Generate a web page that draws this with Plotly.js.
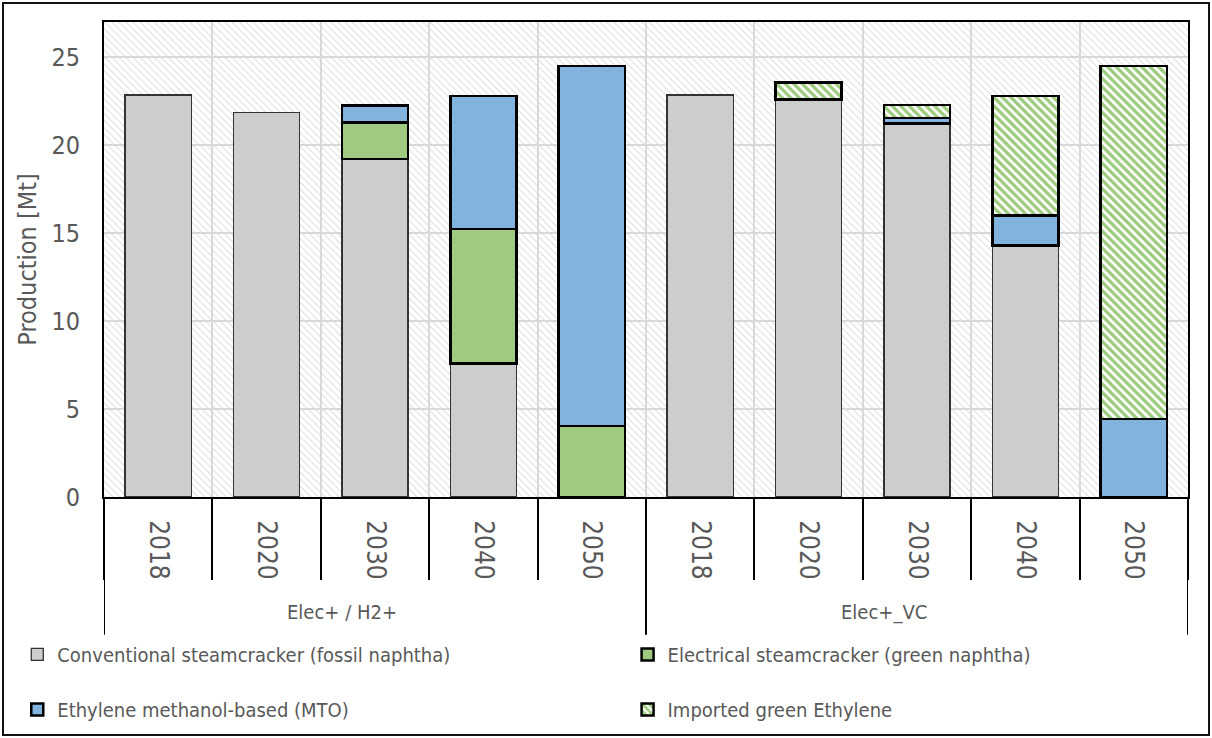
<!DOCTYPE html>
<html><head><meta charset="utf-8">
<script src="https://cdn.plot.ly/plotly-3.0.1.min.js"></script>
<style>
html,body{margin:0;padding:0;background:#fff}
#chart{width:1212px;height:738px}
#frame{position:absolute;left:2px;top:2px;width:1204px;height:730px;border:2px solid #111;pointer-events:none;box-sizing:content-box}
</style>
</head><body><div id="chart"></div><div id="frame"></div>
<script>
// ---- data ----
const scenarios = ['Elec+ / H2+', 'Elec+_VC'];
const years = ['2018', '2020', '2030', '2040', '2050'];
const conventional = [22.85, 21.85, 19.2, 7.6, null, 22.85, 22.6, 21.23, 14.3, null];
const electrical   = [null, null, 2.1, 7.62, 4.05, null, null, null, null, null];
const mto          = [null, null, 0.96, 7.57, 20.45, null, null, 0.32, 1.7, 4.43];
const imported     = [null, null, null, null, null, null, 0.96, 0.72, 6.8, 20.07];
const seriesNames = [
  'Conventional steamcracker (fossil naphtha)',
  'Electrical steamcracker (green naphtha)',
  'Ethylene methanol-based (MTO)',
  'Imported green Ethylene'
];

// ---- derived ----
const yearLabels = [];
scenarios.forEach(() => years.forEach(y => yearLabels.push(y)));
const idx = yearLabels.map((_, i) => i);
const boundaries = idx.map(i => i - 0.5).concat([idx.length - 0.5]);
const groupEdges = [];
for (let s = 0; s <= scenarios.length; s++) groupEdges.push(s * years.length - 0.5);

const FONT = "'DejaVu Sans Condensed', 'Liberation Sans Narrow', 'Liberation Sans', sans-serif";
const TXT = '#595959';
const BW = 0.61;

const traces = [
  {name: seriesNames[0], y: conventional, legend: 'legend', legendgroup: 'a',
   marker: {color: '#CDCDCD', line: {color: '#333333', width: 1.3}}},
  {name: seriesNames[1], y: electrical, legend: 'legend2', legendgroup: 'b',
   marker: {color: '#9FCA7F', line: {color: '#000', width: 2.5}}},
  {name: seriesNames[2], y: mto, legend: 'legend', legendgroup: 'c',
   marker: {color: '#82B3DF', line: {color: '#000', width: 2.5}}},
  {name: seriesNames[3], y: imported, legend: 'legend2', legendgroup: 'd',
   marker: {color: '#FFFFFF', line: {color: '#000', width: 2.5},
            pattern: {shape: '\\', fgcolor: '#9CCB7C', bgcolor: '#FFFFFF', size: 6, solidity: 0.55}}}
].map(t => Object.assign({type: 'bar', x: idx, width: BW, hoverinfo: 'skip'}, t));

const hatchSvg = "<svg xmlns='http://www.w3.org/2000/svg' width='1084' height='475'>" +
  "<defs><pattern id='p' width='5' height='5' patternUnits='userSpaceOnUse' patternTransform='rotate(-45)'>" +
  "<line x1='0' y1='0' x2='0' y2='5' stroke='#d6d6d6' stroke-width='1.6'/></pattern></defs>" +
  "<rect width='100%' height='100%' fill='url(#p)'/></svg>";

const shapes = groupEdges.map(g => ({
  type: 'line', xref: 'x', yref: 'paper', x0: g, x1: g, y0: 0, y1: -0.29,
  line: {color: '#000', width: 2}
}));

const annotations = scenarios.map((s, i) => ({
  text: s, xref: 'x', yref: 'paper', x: i * years.length + (years.length - 1) / 2, y: -0.242,
  xshift: -33, showarrow: false, yanchor: 'middle', font: {size: 20, color: TXT, family: FONT}
}));

const layout = {
  width: 1212, height: 738,
  margin: {l: 104, r: 24, t: 22, b: 241, autoexpand: false},
  paper_bgcolor: '#fff', plot_bgcolor: '#fff',
  barmode: 'stack',
  font: {family: FONT, color: TXT},
  showlegend: true,
  images: [{source: 'data:image/svg+xml;utf8,' + encodeURIComponent(hatchSvg),
            xref: 'paper', yref: 'paper', x: 0, y: 1, sizex: 1, sizey: 1,
            xanchor: 'left', yanchor: 'top', sizing: 'stretch', layer: 'below'}],
  xaxis: {
    range: [-0.5, idx.length - 0.5], tickmode: 'array', tickvals: idx, ticktext: yearLabels,
    tickangle: 90, ticks: '', showgrid: false, zeroline: false, automargin: false,
    showline: true, linewidth: 2, linecolor: '#000', mirror: true,
    tickfont: {size: 26, color: TXT}, ticklabelstandoff: 16,
    minor: {tickmode: 'array', tickvals: boundaries, showgrid: true, gridcolor: '#d9d9d9', gridwidth: 2,
            ticks: 'outside', ticklen: 81, tickwidth: 2, tickcolor: '#000'}
  },
  yaxis: {
    range: [0, 27], tick0: 0, dtick: 5, ticks: '', showgrid: true, gridcolor: '#d9d9d9', gridwidth: 2,
    zeroline: false, showline: true, linewidth: 2, linecolor: '#000', mirror: true, automargin: false,
    tickfont: {size: 25, color: TXT}, ticklabelstandoff: 17,
    title: {text: 'Production [Mt]', font: {size: 25, color: TXT}, standoff: 8}
  },
  legend: {x: -0.080, xanchor: 'left', y: -0.2904, yanchor: 'top', orientation: 'v',
           font: {size: 20, color: TXT}, tracegroupgap: 26, bgcolor: 'rgba(0,0,0,0)', traceorder: 'grouped'},
  legend2: {x: 0.483, xanchor: 'left', y: -0.2904, yanchor: 'top', orientation: 'v',
            font: {size: 20, color: TXT}, tracegroupgap: 26, bgcolor: 'rgba(0,0,0,0)', traceorder: 'grouped'},
  shapes: shapes,
  annotations: annotations
};

Plotly.newPlot('chart', traces, layout, {displayModeBar: false, staticPlot: true});
</script>
</body></html>
